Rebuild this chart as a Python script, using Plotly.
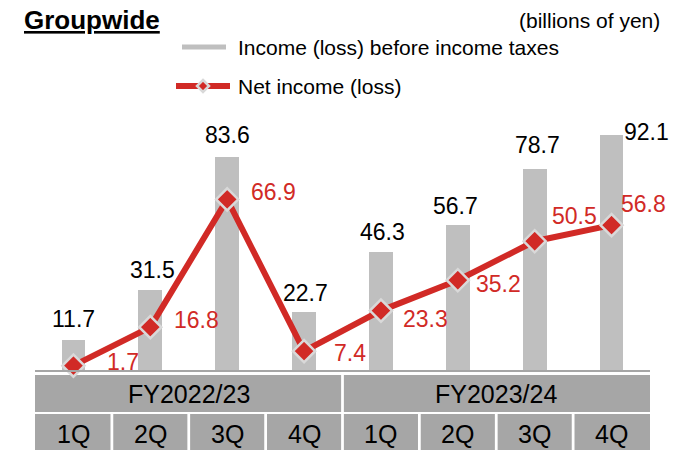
import plotly.graph_objects as go

# ---- data ----
fiscal_years = ["FY2022/23", "FY2023/24"]
quarters = ["1Q", "2Q", "3Q", "4Q"]
income_before_tax = [11.7, 31.5, 83.6, 22.7, 46.3, 56.7, 78.7, 92.1]
net_income = [1.7, 16.8, 66.9, 7.4, 23.3, 35.2, 50.5, 56.8]
series_names = ["Income (loss) before income taxes", "Net income (loss)"]

# ---- styling ----
FONT = "Liberation Sans, Arial, sans-serif"
RED = "#d12a26"
BAR = "#bfbfbf"
CELL = "#a6a6a6"
W, H = 680, 450
ML, MR, MT, MB = 35, 30, 100, 80
plot_w = W - ML - MR
plot_h = H - MT - MB

n = len(income_before_tax)
xs = list(range(n))

# label pixel offsets (dx, dy up)
bar_lbl_off = [(0, 21), (2, 20), (0, 22), (1, 19), (2, 20), (-2, 19), (3, 24), (35, 3)]
net_lbl_off = [(50, 4), (46, 7), (46, 7), (46, -2), (45, -8), (41, -4), (40, 25), (32, 21)]


def px(p):
    return (p - ML) / plot_w


def py(p):
    return (H - MB - p) / plot_h


fig = go.Figure()
fig.add_trace(go.Bar(
    x=xs, y=income_before_tax, name=series_names[0], marker=dict(color=BAR, line=dict(width=0)),
    width=0.31, showlegend=False, hoverinfo="skip"))
fig.add_trace(go.Scatter(
    x=xs, y=net_income, mode="lines+markers", name=series_names[1],
    line=dict(color=RED, width=6),
    marker=dict(symbol="diamond", size=17, color=RED, line=dict(color="#d9d9d9", width=2.5)),
    cliponaxis=False, showlegend=False))

ann = []
for i, v in enumerate(income_before_tax):
    dx, dy = bar_lbl_off[i]
    ann.append(dict(x=i, y=v, xref="x", yref="y", text=f"{v:.1f}", showarrow=False,
                    xshift=dx, yshift=dy, yanchor="middle", xanchor="center",
                    font=dict(family=FONT, size=23, color="#000000")))
for i, v in enumerate(net_income):
    dx, dy = net_lbl_off[i]
    ann.append(dict(x=i, y=v, xref="x", yref="y", text=f"{v:.1f}", showarrow=False,
                    xshift=dx, yshift=dy, yanchor="middle", xanchor="center",
                    font=dict(family=FONT, size=23, color=RED)))

shapes = []
g = 0.018
# fiscal-year row
for k, fy in enumerate(fiscal_years):
    x0 = k * 4 - 0.5 + (g if k > 0 else 0)
    x1 = k * 4 + 3.5 - (g if k < len(fiscal_years) - 1 else 0)
    shapes.append(dict(type="rect", xref="x", yref="paper", x0=x0, x1=x1,
                       y0=py(412), y1=py(375), fillcolor=CELL, line=dict(width=0), layer="below"))
    ann.append(dict(x=(k * 4 + 1.5), y=py(394), xref="x", yref="paper", text=fy, showarrow=False,
                    xanchor="center", yanchor="middle",
                    font=dict(family=FONT, size=25, color="#000000")))
# quarter row
for i in range(n):
    x0 = i - 0.5 + (g if i > 0 else 0)
    x1 = i + 0.5 - (g if i < n - 1 else 0)
    shapes.append(dict(type="rect", xref="x", yref="paper", x0=x0, x1=x1,
                       y0=py(460), y1=py(414), fillcolor=CELL, line=dict(width=0), layer="below"))
    ann.append(dict(x=i, y=py(434), xref="x", yref="paper", text=quarters[i % 4], showarrow=False,
                    xanchor="center", yanchor="middle",
                    font=dict(family=FONT, size=25, color="#000000")))

# title and unit
ann.append(dict(x=px(22), y=py(20), xref="paper", yref="paper", text="<b><u>Groupwide</u></b>",
                showarrow=False, xanchor="left", yanchor="middle",
                font=dict(family=FONT, size=26, color="#000000")))
ann.append(dict(x=px(662), y=py(20), xref="paper", yref="paper", text="(billions of yen)",
                showarrow=False, xanchor="right", yanchor="middle",
                font=dict(family=FONT, size=21, color="#000000")))

# legend drawn as swatches + labels
shapes.append(dict(type="line", xref="paper", yref="paper", x0=px(182), x1=px(226),
                   y0=py(47), y1=py(47), line=dict(color=BAR, width=5)))
shapes.append(dict(type="line", xref="paper", yref="paper", x0=px(176), x1=px(230),
                   y0=py(86), y1=py(86), line=dict(color=RED, width=6)))
cx, cy, r = 203, 86, 6
shapes.append(dict(type="path", xref="paper", yref="paper",
                   path=f"M{px(cx)},{py(cy - r)} L{px(cx + r)},{py(cy)} L{px(cx)},{py(cy + r)} L{px(cx - r)},{py(cy)} Z",
                   fillcolor=RED, line=dict(color="#d9d9d9", width=2.5)))
ann.append(dict(x=px(236), y=py(47), xref="paper", yref="paper", text=series_names[0],
                showarrow=False, xanchor="left", yanchor="middle",
                font=dict(family=FONT, size=21, color="#000000")))
ann.append(dict(x=px(236), y=py(86), xref="paper", yref="paper", text=series_names[1],
                showarrow=False, xanchor="left", yanchor="middle",
                font=dict(family=FONT, size=21, color="#000000")))

fig.update_layout(
    width=W, height=H,
    margin=dict(l=ML, r=MR, t=MT, b=MB, pad=0, autoexpand=False),
    paper_bgcolor="white", plot_bgcolor="white",
    font=dict(family=FONT, size=20, color="#000000"),
    xaxis=dict(range=[-0.5, 7.5], showgrid=False, zeroline=False, showticklabels=False,
               showline=True, linecolor="#a6a6a6", linewidth=2, ticks="", fixedrange=True),
    yaxis=dict(range=[0, plot_h / 2.55], visible=False, fixedrange=True),
    bargap=0,
    annotations=ann,
    shapes=shapes,
    showlegend=False,
)

fig.write_html("out.html", config={"displayModeBar": False},
               post_script="document.body.style.margin='0';document.body.style.padding='0';")
